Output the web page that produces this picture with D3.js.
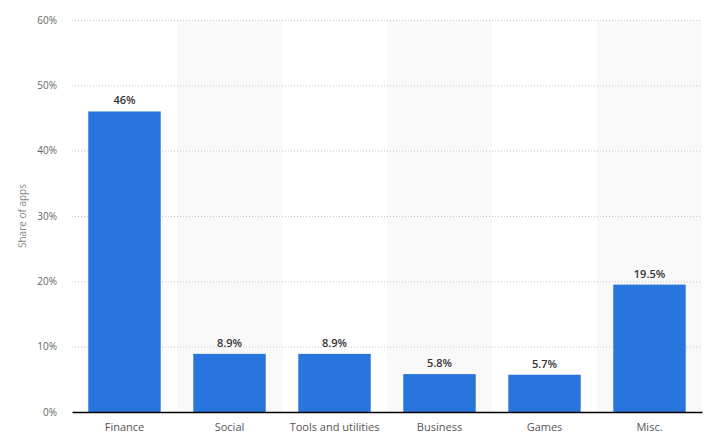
<!DOCTYPE html>
<html>
<head>
<meta charset="utf-8">
<script src="https://cdn.jsdelivr.net/npm/d3@7"></script>
<style>
  body { margin: 0; background: #fff; }
  text { font-family: "Open Sans", "DejaVu Sans", sans-serif; }
</style>
</head>
<body>
<div id="chart"></div>
<script>
// chart data
const categories = ['Finance', 'Social', 'Tools and utilities', 'Business', 'Games', 'Misc.'];
const shares = [46, 8.9, 8.9, 5.8, 5.7, 19.5];
const valueLabels = ['46%', '8.9%', '8.9%', '5.8%', '5.7%', '19.5%'];
const yTicks = [0, 10, 20, 30, 40, 50, 60];

const width = 707, height = 443;
const margin = { top: 20, right: 5, bottom: 31, left: 72 };

const svg = d3.select('#chart')
  .append('svg')
  .attr('width', width)
  .attr('height', height);

const x = d3.scaleBand()
  .domain(categories)
  .range([margin.left, width - margin.right])
  .paddingInner(0.31)
  .paddingOuter(0.155);

// band scale without padding for the striped backgrounds
const xBand = d3.scaleBand()
  .domain(categories)
  .range([margin.left, width - margin.right]);

const y = d3.scaleLinear()
  .domain([0, 60])
  .range([height - margin.bottom, margin.top]);

// alternating background stripes
svg.append('g')
  .selectAll('rect')
  .data(categories.filter((d, i) => i % 2 === 1))
  .join('rect')
  .attr('x', d => xBand(d))
  .attr('y', margin.top)
  .attr('width', xBand.bandwidth())
  .attr('height', y(0) - margin.top)
  .attr('fill', '#f9f9f9');

// gridlines
svg.append('g')
  .selectAll('line')
  .data(yTicks.filter(d => d > 0))
  .join('line')
  .attr('x1', margin.left)
  .attr('x2', width - margin.right)
  .attr('y1', d => y(d) + 0.5)
  .attr('y2', d => y(d) + 0.5)
  .attr('stroke', '#c8c8c8')
  .attr('stroke-dasharray', '1,2');

// y axis
const yAxis = svg.append('g')
  .attr('transform', `translate(${margin.left - 15},0)`)
  .call(d3.axisLeft(y).tickValues(yTicks).tickFormat(d => d + '%').tickSize(0));
yAxis.select('.domain').remove();
yAxis.selectAll('text')
  .attr('fill', '#666')
  .attr('font-size', 10)
  .attr('x', 0);

// y axis title
svg.append('text')
  .attr('transform', `translate(26,${(margin.top + y(0)) / 2}) rotate(-90)`)
  .attr('text-anchor', 'middle')
  .attr('fill', '#888')
  .attr('font-size', 10)
  .text('Share of apps');

// bars
svg.append('g')
  .selectAll('rect')
  .data(shares)
  .join('rect')
  .attr('x', (d, i) => x(categories[i]))
  .attr('y', d => y(d))
  .attr('width', x.bandwidth())
  .attr('height', d => y(0) - y(d))
  .attr('fill', '#2876dd');

// value labels
svg.append('g')
  .selectAll('text')
  .data(shares)
  .join('text')
  .attr('x', (d, i) => x(categories[i]) + x.bandwidth() / 2)
  .attr('y', d => y(d) - 7)
  .attr('text-anchor', 'middle')
  .attr('font-size', 11)
  .attr('font-weight', 600)
  .attr('fill', '#333')
  .text((d, i) => valueLabels[i]);

// x axis
const xAxis = svg.append('g')
  .attr('transform', `translate(0,${y(0)})`)
  .call(d3.axisBottom(xBand).tickSize(0).tickPadding(11));
xAxis.select('.domain')
  .attr('stroke', '#000')
  .attr('stroke-width', 1.5);
xAxis.selectAll('text')
  .attr('fill', '#555')
  .attr('font-size', 11);
</script>
</body>
</html>
